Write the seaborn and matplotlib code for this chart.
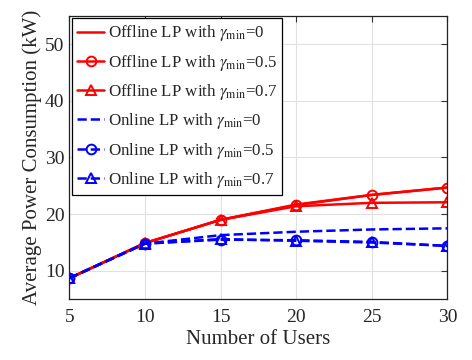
import matplotlib
matplotlib.use('Agg')
import matplotlib.pyplot as plt
import seaborn as sns

# 数据
users = [5, 10, 15, 20, 25, 30]
offline_0 = [8.7, 14.9, 19.0, 21.6, 23.4, 24.7]
offline_05 = [8.7, 14.9, 19.0, 21.7, 23.4, 24.7]
offline_07 = [8.7, 14.9, 19.0, 21.4, 22.0, 22.1]
online_0 = [8.7, 14.8, 16.3, 16.9, 17.3, 17.5]
online_05 = [8.7, 14.8, 15.5, 15.4, 15.1, 14.4]
online_07 = [8.7, 14.8, 15.6, 15.3, 15.0, 14.4]

sns.set_style('whitegrid')
plt.rcParams['font.family'] = ['Liberation Serif', 'DejaVu Serif']
plt.rcParams['mathtext.fontset'] = 'stix'

fig = plt.figure(figsize=(4.72, 3.6), dpi=100)
ax = fig.add_axes([0.147, 0.169, 0.801, 0.787])

red = '#ff0000'
blue = '#0000ff'
series = [
    (offline_0, red, '-', None, r'Offline LP with $\gamma_{\rm min}$=0'),
    (offline_05, red, '-', 'o', r'Offline LP with $\gamma_{\rm min}$=0.5'),
    (offline_07, red, '-', '^', r'Offline LP with $\gamma_{\rm min}$=0.7'),
    (online_0, blue, '--', None, r'Online LP with $\gamma_{\rm min}$=0'),
    (online_05, blue, '--', 'o', r'Online LP with $\gamma_{\rm min}$=0.5'),
    (online_07, blue, '--', '^', r'Online LP with $\gamma_{\rm min}$=0.7'),
]
for vals, c, ls, mk, lab in series:
    sns.lineplot(x=users, y=vals, ax=ax, color=c, linestyle=ls, linewidth=1.8,
                 marker=mk, markersize=7, markerfacecolor='none',
                 markeredgecolor=c, markeredgewidth=1.4, label=lab)

ax.set_xlim(5, 30)
ax.set_ylim(5, 55)
ax.set_xticks([5, 10, 15, 20, 25, 30])
ax.set_yticks([10, 20, 30, 40, 50])
ax.tick_params(labelsize=14, length=4, direction='in', color='#333333',
               right=True, top=True)
ax.tick_params(axis='x', pad=7)
ax.grid(color='#e0e0e0', linewidth=0.8)
for s in ax.spines.values():
    s.set_color('#222222')
    s.set_linewidth(0.9)
ax.set_xlabel('Number of Users', fontsize=15, labelpad=3)
ax.set_ylabel('Average Power Consumption (kW)', fontsize=15, labelpad=2)

leg = ax.legend(loc='upper left', fontsize=12.2, fancybox=False, framealpha=1,
                edgecolor='black', borderaxespad=0.15, handlelength=1.6,
                handletextpad=0.2, labelspacing=0.55, borderpad=0.3)
leg.get_frame().set_linewidth(0.9)

plt.savefig('out.png', dpi=100)
